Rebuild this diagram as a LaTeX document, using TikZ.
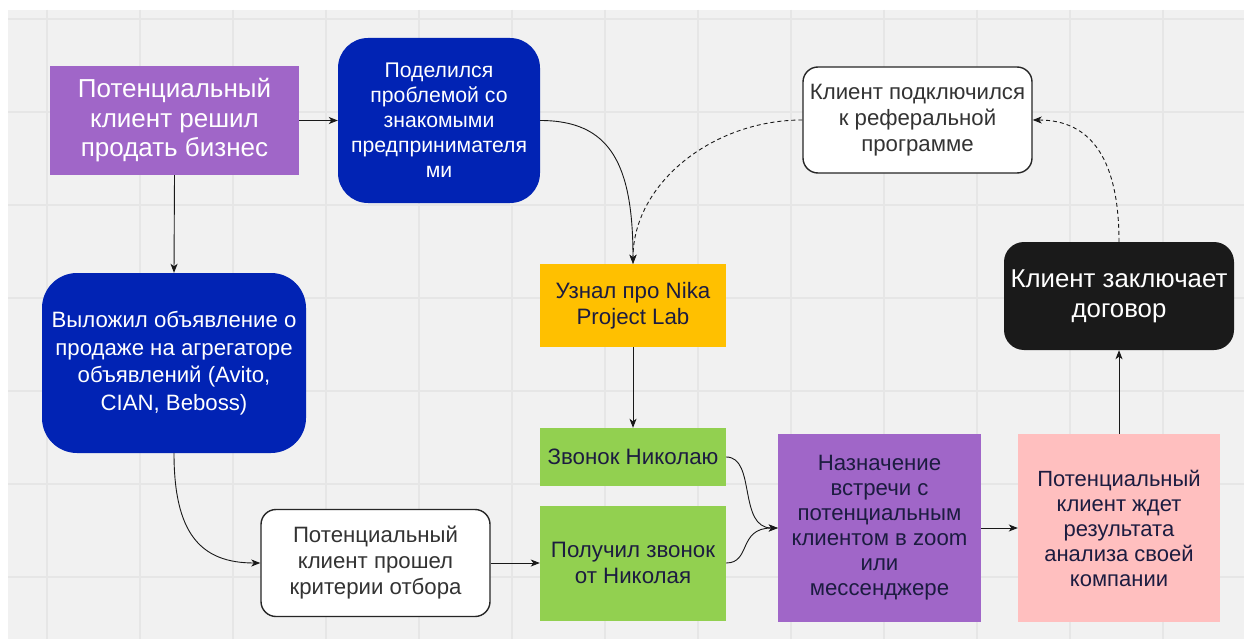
\documentclass[tikz,border=0pt]{standalone}
\usepackage{fontspec}
\setmainfont{Liberation Sans}
\usetikzlibrary{arrows.meta}
\definecolor{bggray}{HTML}{F1F1F1}
\definecolor{gridgray}{HTML}{E6E6E6}
\definecolor{purplebox}{HTML}{A066C8}
\definecolor{bluebox}{HTML}{0123B4}
\definecolor{yellowbox}{HTML}{FFC000}
\definecolor{greenbox}{HTML}{92D050}
\definecolor{pinkbox}{HTML}{FFBFBF}
\definecolor{blackbox}{HTML}{1A1A1A}
\definecolor{darktext}{HTML}{1C1C40}
\definecolor{graytext}{HTML}{333333}
\tikzset{
  box/.style={align=center, inner sep=0pt, anchor=center},
  purplestyle/.style={box, fill=purplebox, text=white},
  bluestyle/.style={box, fill=bluebox, text=white},
  colorbox/.style={box, text=darktext},
  outlinebox/.style={box, fill=white, draw=black!85, line width=1.4pt, rounded corners=15pt, text=graytext},
  conn/.style={draw=black!90, line width=0.9pt, -{Stealth[length=9pt,width=7pt,inset=2.5pt]}},
  dconn/.style={conn, dash pattern=on 4pt off 3pt}
}
\begin{document}
\begin{tikzpicture}[x=1pt,y=-1pt]
\useasboundingbox (0,0) rectangle (1244,639);
\fill[white] (0,0) rectangle (1244,639);
\fill[bggray] (8,10) rectangle (1244,639);
\foreach \gx in {47,140,...,1163} \draw[gridgray, line width=1.3pt] (\gx,10) -- (\gx,639);
\foreach \gy in {19,112,...,577} \draw[gridgray, line width=1.3pt] (8,\gy) -- (1244,\gy);

\node[purplestyle, minimum width=249pt, minimum height=109pt, font=\fontsize{26}{29.5}\selectfont] (n1) at (174.5,120.5) {Потенциальный\\клиент решил\\продать бизнес};
\node[bluestyle, rounded corners=30pt, minimum width=202pt, minimum height=165pt, font=\fontsize{21.2}{25}\selectfont] (n2) at (439,120.5) {Поделился\\проблемой со\\знакомыми\\предпринимателя\\ми};
\node[outlinebox, minimum width=229pt, minimum height=106pt, font=\fontsize{22.2}{26}\selectfont] (n3) at (917.5,120) {Клиент подключился\\к реферальной\\программе};
\node[bluestyle, rounded corners=35pt, minimum width=264pt, minimum height=180pt, font=\fontsize{22.2}{27.5}\selectfont] (n4) at (174,363) {Выложил объявление о\\продаже на агрегаторе\\объявлений (Avito,\\CIAN, Beboss)};
\node[colorbox, fill=yellowbox, minimum width=186pt, minimum height=83pt, font=\fontsize{22.3}{26}\selectfont] (n5) at (633,305.5) {Узнал про Nika\\Project Lab};
\node[box, fill=blackbox, text=white, rounded corners=20pt, minimum width=230pt, minimum height=108pt, font=\fontsize{25.8}{30}\selectfont] (n6) at (1119,296) {Клиент заключает\\договор};
\node[colorbox, fill=greenbox, minimum width=186pt, minimum height=58pt, font=\fontsize{22.3}{26}\selectfont] (n7) at (633,457) {Звонок Николаю};
\node[colorbox, fill=greenbox, minimum width=186pt, minimum height=115pt, font=\fontsize{22.3}{26}\selectfont] (n8) at (633,563) {Получил звонок\\от Николая};
\node[colorbox, fill=purplebox, minimum width=203pt, minimum height=188pt, font=\fontsize{22.2}{25}\selectfont] (n9) at (879.5,528) {Назначение\\встречи с\\потенциальным\\клиентом в zoom\\или\\мессенджере};
\node[colorbox, fill=pinkbox, minimum width=202pt, minimum height=188pt, font=\fontsize{22}{25}\selectfont] (n10) at (1119,528) {Потенциальный\\клиент ждет\\результата\\анализа своей\\компании};
\node[outlinebox, minimum width=229pt, minimum height=107pt, font=\fontsize{22.2}{26}\selectfont] (n11) at (375.5,563) {Потенциальный\\клиент прошел\\критерии отбора};

\draw[conn] (n1.east) -- (n2.west);
\draw[conn] (n1.south) -- (n4.north);
\draw[conn] (n2.east) .. controls +(70,0) and +(0,-100) .. (n5.north);
\draw[dconn] (n3.west) .. controls +(-90,0) and +(0,-80) .. (n5.north);
\draw[conn] (n5.south) -- (n7.north);
\draw[conn] (n4.south) .. controls +(0,80) and +(-60,0) .. (n11.west);
\draw[conn] (n11.east) -- (n8.west);
\draw[conn] (n7.east) .. controls +(30,0) and +(-40,0) .. (n9.west);
\draw[conn] (n8.east) .. controls +(25,0) and +(-40,0) .. (n9.west);
\draw[conn] (n9.east) -- (n10.west);
\draw[conn] (n10.north) -- (n6.south);
\draw[dconn] (n6.north) .. controls +(0,-80) and +(60,0) .. (n3.east);
\end{tikzpicture}
\end{document}
